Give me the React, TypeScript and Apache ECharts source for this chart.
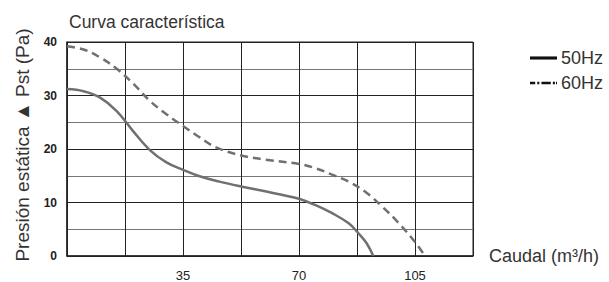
import React, { useEffect, useRef } from "react";
import * as echarts from "echarts";

const flow50 = [0, 5, 10, 15, 20, 25, 30, 35, 40, 46, 52.5, 59, 65, 70, 75, 80, 85, 88, 90.5, 92.4];
const pres50 = [31.2, 30.8, 29.6, 27.1, 23.3, 19.8, 17.5, 16.1, 14.9, 13.9, 13.0, 12.2, 11.4, 10.7, 9.5, 8.0, 6.1, 4.2, 2.3, 0];
const flow60 = [0, 5, 10, 15, 20, 25, 30, 35, 40, 45, 52.5, 60, 70, 75, 80, 85, 90, 95, 100, 105, 108];
const pres60 = [39.2, 38.6, 37.1, 35.0, 32.2, 29.0, 26.5, 24.3, 22.2, 20.3, 18.8, 18.0, 17.2, 16.4, 15.2, 13.9, 12.0, 9.3, 6.2, 2.6, 0];
const xTickLabels = [35, 70, 105];
const yTickLabels = [0, 10, 20, 30, 40];
const seriesNames = ["50Hz", "60Hz"];

const FONT = "Liberation Sans, Arial, sans-serif";

export default function App() {
  const ref = useRef<HTMLDivElement>(null);
  useEffect(() => {
    if (!ref.current) return;
    const chart = echarts.init(ref.current, null, { renderer: "svg" });
    const curveColor = "#707070";
    chart.setOption({
      animation: false,
      backgroundColor: "#ffffff",
      textStyle: { fontFamily: FONT },
      title: {
        text: "Curva característica",
        left: 64,
        top: 8,
        textStyle: { fontFamily: FONT, fontSize: 17.5, fontWeight: "normal", color: "#333" },
      },
      legend: {
        orient: "vertical",
        left: 525,
        top: 44,
        itemWidth: 27,
        itemHeight: 14,
        itemGap: 7,
        textStyle: { fontFamily: FONT, fontSize: 18, color: "#333", padding: [0, 0, 0, -1] },
        data: [
          { name: seriesNames[0], icon: "path://M0,0h26v3h-26z", itemStyle: { color: "#111" } },
          {
            name: seriesNames[1],
            icon: "path://M0,0h5v2.4h-5z M7,0h2v2.4h-2z M11,0h9v2.4h-9z M22,0h2v2.4h-2z M25,0h1v2.4h-1z",
            itemStyle: { color: "#111" },
          },
        ],
      },
      grid: {
        left: 67,
        right: 136,
        top: 42,
        bottom: 24,
        show: true,
        borderColor: "#222",
        borderWidth: 1,
      },
      xAxis: {
        type: "value",
        min: 0,
        max: 122.5,
        interval: 17.5,
        name: "Caudal (m³/h)",
        nameLocation: "end",
        nameGap: 16,
        nameTextStyle: { fontFamily: FONT, fontSize: 18, color: "#333", verticalAlign: "middle", align: "left", padding: [0, 0, 6, 0] },
        axisLine: { show: true, lineStyle: { color: "#222", width: 1.5 } },
        axisTick: { show: false },
        axisLabel: {
          margin: 13,
          fontFamily: FONT,
          fontSize: 13,
          color: "#222",
          formatter: (v: number) => (xTickLabels.includes(v) ? String(v) : ""),
        },
        splitLine: { show: true, lineStyle: { color: "#222", width: 1 } },
      },
      yAxis: {
        type: "value",
        min: 0,
        max: 40,
        interval: 10,
        axisLine: { show: true, lineStyle: { color: "#222", width: 1.5 } },
        axisTick: { show: false },
        axisLabel: {
          margin: 10,
          fontFamily: FONT,
          fontSize: 12,
          fontWeight: "bold",
          color: "#222",
          formatter: (v: number) => (yTickLabels.includes(v) ? String(v) : ""),
        },
        splitLine: { show: true, lineStyle: { color: "#222", width: 1 } },
        minorTick: { show: false, splitNumber: 2 },
        minorSplitLine: { show: true, lineStyle: { color: "#777", width: 1 } },
      },
      graphic: [
        {
          type: "text",
          x: 22,
          y: 145,
          rotation: Math.PI / 2,
          style: {
            text: "Presión estática ▲ Pst (Pa)",
            fontFamily: FONT,
            fontSize: 19,
            fill: "#333",
            align: "center",
            verticalAlign: "middle",
          },
        },
      ],
      series: [
        {
          name: seriesNames[0],
          type: "line",
          smooth: 0.4,
          symbol: "none",
          lineStyle: { color: curveColor, width: 2.5 },
          itemStyle: { color: curveColor },
          data: flow50.map((x, i) => [x, pres50[i]]),
        },
        {
          name: seriesNames[1],
          type: "line",
          smooth: 0.4,
          symbol: "none",
          lineStyle: { color: curveColor, width: 2.5, type: [8, 5] },
          itemStyle: { color: curveColor },
          data: flow60.map((x, i) => [x, pres60[i]]),
        },
      ],
    });
    return () => chart.dispose();
  }, []);
  return (
    <div
      ref={ref}
      style={{ position: "fixed", left: 0, top: 0, width: 609, height: 282, background: "#fff" }}
    />
  );
}
